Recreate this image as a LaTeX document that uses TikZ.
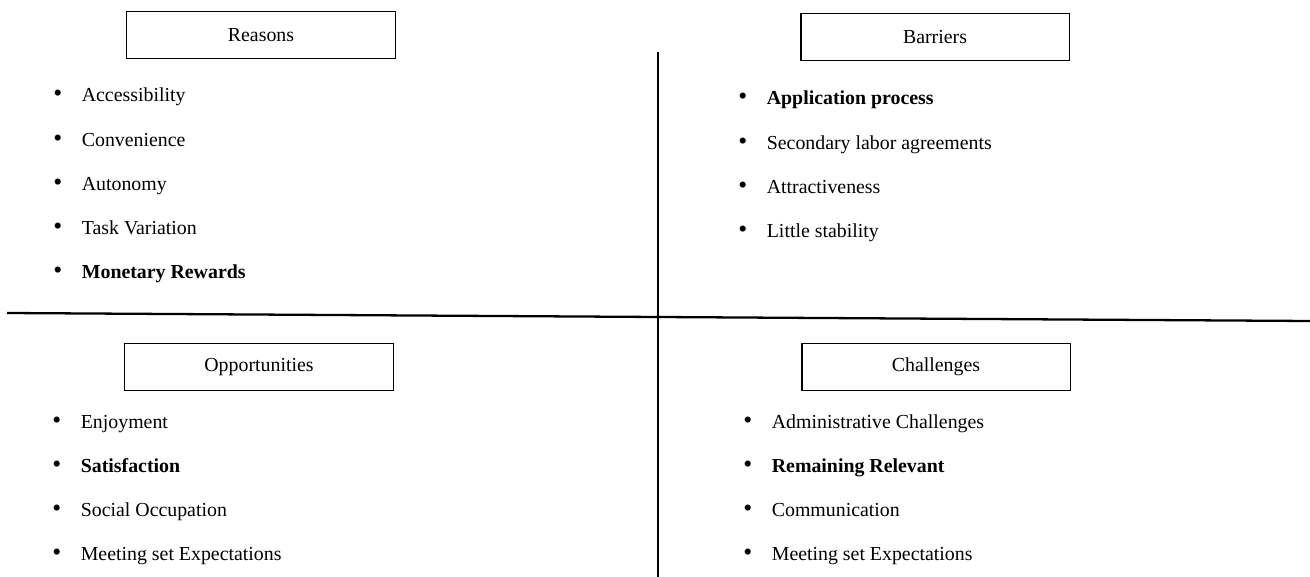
\documentclass[tikz,border=0pt]{standalone}
\usepackage{fontspec}
\setmainfont{Liberation Serif}
\usetikzlibrary{positioning}
\tikzset{%
    head/.style={draw,line width=1.1pt,minimum width=5.38cm,minimum height=0.94cm,inner sep=0pt,font=\fontsize{11.3}{13}\selectfont},
    itm/.style={anchor=base west,inner sep=0pt,font=\fontsize{11.3}{13}\selectfont},
    sep/.style={line width=1.3pt}
}
\newcommand{\bul}{\makebox[0.57cm][l]{\fontsize{14.5}{14.5}\selectfont\textbullet}}

\begin{document}
\begin{tikzpicture}[x=0.02cm,y=-0.02cm,node distance=0.885cm]
            \useasboundingbox (0,0) rectangle (1310,577);
            % dividers
            \coordinate (hl) at (7,313);
            \coordinate (hr) at (1310,321);
            \coordinate (vt) at (658,52);
            \coordinate (vb) at (658,577);
            \draw[sep] (hl) -- (hr);
            \draw[sep] (vt) -- (vb);
            %%%%% Reasons
            \node [head] (reasons) at (261,35) {Reasons};
            \node [itm] (r1) at (53,102) {\bul Accessibility};
            \node [itm,below=of r1.base west,anchor=base west] (r2) {\bul Convenience};
            \node [itm,below=of r2.base west,anchor=base west] (r3) {\bul Autonomy};
            \node [itm,below=of r3.base west,anchor=base west] (r4) {\bul Task Variation};
            \node [itm,below=of r4.base west,anchor=base west] (r5) {\bul \textbf{Monetary Rewards}};
            %%%%% Barriers
            \node [head] (barriers) at (935,37) {Barriers};
            \node [itm] (b1) at (738,105) {\bul \textbf{Application process}};
            \node [itm,below=of b1.base west,anchor=base west] (b2) {\bul Secondary labor agreements};
            \node [itm,below=of b2.base west,anchor=base west] (b3) {\bul Attractiveness};
            \node [itm,below=of b3.base west,anchor=base west] (b4) {\bul Little stability};
            %%%%% Opportunities
            \node [head] (opps) at (259,367) {Opportunities};
            \node [itm] (o1) at (52,428) {\bul Enjoyment};
            \node [itm,below=of o1.base west,anchor=base west] (o2) {\bul \textbf{Satisfaction}};
            \node [itm,below=of o2.base west,anchor=base west] (o3) {\bul Social Occupation};
            \node [itm,below=of o3.base west,anchor=base west] (o4) {\bul Meeting set Expectations};
            %%%%% Challenges
            \node [head] (chall) at (936,367) {Challenges};
            \node [itm] (c1) at (743,428) {\bul Administrative Challenges};
            \node [itm,below=of c1.base west,anchor=base west] (c2) {\bul \textbf{Remaining Relevant}};
            \node [itm,below=of c2.base west,anchor=base west] (c3) {\bul Communication};
            \node [itm,below=of c3.base west,anchor=base west] (c4) {\bul Meeting set Expectations};
\end{tikzpicture}
\end{document}
